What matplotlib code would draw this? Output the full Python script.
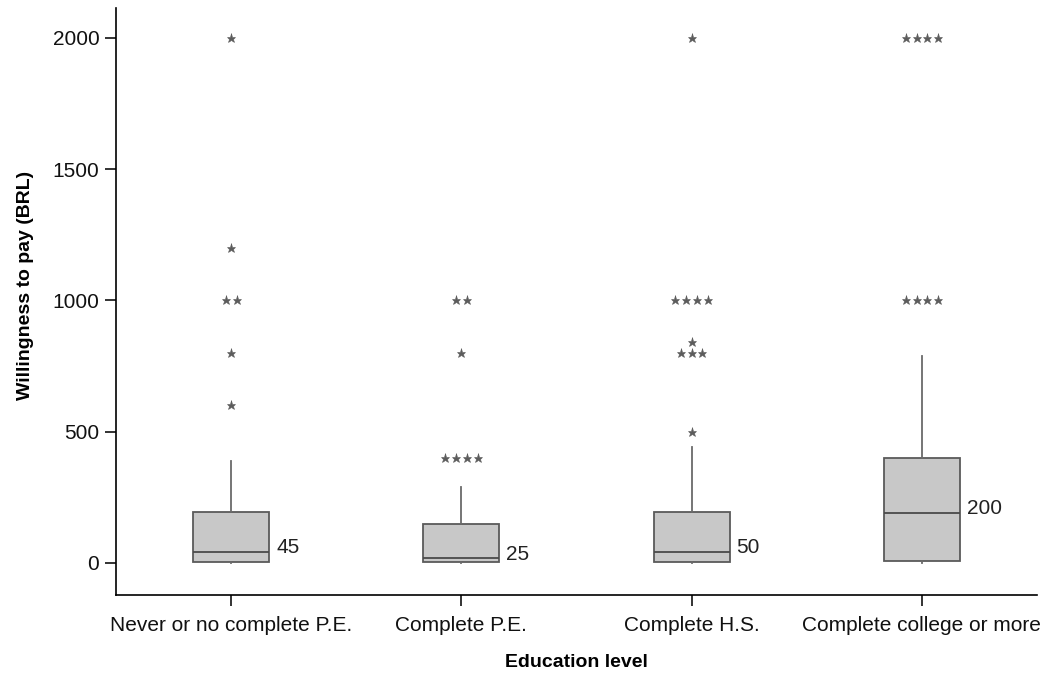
import matplotlib
matplotlib.use("Agg")
import matplotlib.pyplot as plt
from matplotlib.transforms import offset_copy

plt.rcParams['font.family'] = ['Liberation Sans', 'DejaVu Sans']

categories = ["Never or no complete P.E.", "Complete P.E.", "Complete H.S.", "Complete college or more"]
q1 = [5, 2, 5, 7]
medians = [42, 18, 42, 192]
q3 = [195, 150, 195, 400]
whisker_low = [0, 0, 0, 0]
whisker_high = [390, 290, 440, 790]
median_labels = ["45", "25", "50", "200"]
# outliers: (value, number of cases) per category
outliers = [
    [(2000, 1), (1200, 1), (1000, 2), (800, 1), (600, 1)],
    [(1000, 2), (800, 1), (400, 4)],
    [(2000, 1), (1000, 4), (840, 1), (800, 3), (500, 1)],
    [(2000, 4), (1000, 4)],
]
yticks = [0, 500, 1000, 1500, 2000]

fig = plt.figure(figsize=(10.47, 6.73), dpi=100)
ax = fig.add_axes([0.1108, 0.1159, 0.8797, 0.8721])

stats = []
for i, c in enumerate(categories):
    stats.append(dict(label=c, q1=q1[i], med=medians[i], q3=q3[i],
                      whislo=whisker_low[i], whishi=whisker_high[i], fliers=[]))

ax.bxp(stats, positions=range(len(categories)), widths=0.33, patch_artist=True,
       showcaps=False, showfliers=False,
       boxprops=dict(facecolor='#c8c8c8', edgecolor='#5a5a5a', linewidth=1.3),
       whiskerprops=dict(color='#6a6a6a', linewidth=1.3),
       medianprops=dict(color='#4a4a4a', linewidth=1.3))

spacing = 0.047
for i, group in enumerate(outliers):
    for val, n in group:
        xs = [i + (k - (n - 1) / 2) * spacing for k in range(n)]
        ax.plot(xs, [val] * n, linestyle='none', marker='*', markersize=6.5,
                color='#5c5c5c', markeredgewidth=0.4)

for i, lab in enumerate(median_labels):
    tr = offset_copy(ax.transData, fig=fig, x=7, y=4, units='dots')
    ax.text(i + 0.165, medians[i], lab, transform=tr, fontsize=15,
            ha='left', va='center', color='#222222')

ax.set_xlim(-0.5, 3.5)
ax.set_ylim(-122, 2113)
ax.set_yticks(yticks)
ax.set_xticks(range(len(categories)))
ax.set_xticklabels(categories)
ax.spines['top'].set_visible(False)
ax.spines['right'].set_visible(False)
for s in ['left', 'bottom']:
    ax.spines[s].set_linewidth(1.2)
ax.tick_params(axis='both', direction='out', length=8, width=1.2, labelsize=15, colors='#111111')
ax.tick_params(axis='y', pad=4)
ax.tick_params(axis='x', pad=7)
ax.set_ylabel('Willingness to pay (BRL)', fontsize=14, fontweight='bold')
ax.yaxis.set_label_coords(-0.089, 0.528)
ax.set_xlabel('Education level', fontsize=14, fontweight='bold', labelpad=14)

fig.savefig('out.png', dpi=100)
